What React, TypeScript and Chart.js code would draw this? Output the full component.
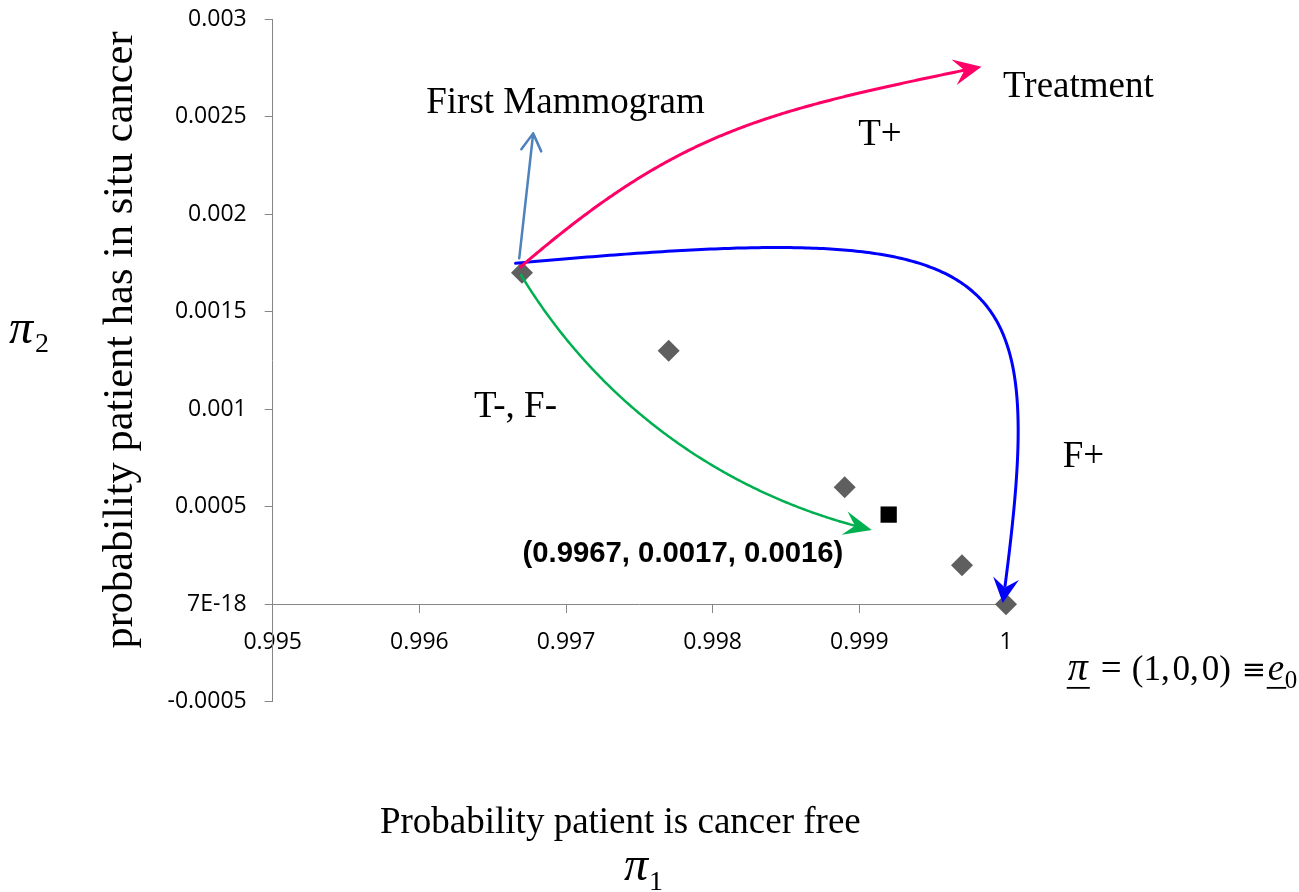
import { useEffect, useRef } from 'react';
import { Chart, registerables } from 'chart.js';

Chart.register(...registerables);

// Belief states (π1, π2) visited along the screening path
const beliefX = [0.9967, 0.9977, 0.9989, 0.9997, 1];
const beliefY = [0.0017, 0.0013, 0.0006, 0.0002, 0];

// Current belief state (black square)
const currentX = [0.9992];
const currentY = [0.00046];

// Axis ticks as printed by the spreadsheet
const xTickValues = [0.995, 0.996, 0.997, 0.998, 0.999, 1];
const xTickLabels = ['0.995', '0.996', '0.997', '0.998', '0.999', '1'];
const yTickValues = [-0.0005, 0, 0.0005, 0.001, 0.0015, 0.002, 0.0025, 0.003];
const yTickLabels = ['-0.0005', '7E-18', '0.0005', '0.001', '0.0015', '0.002', '0.0025', '0.003'];

// Transition arrows, cubic Bézier control points in (π1, π2) units
const arrowTreatment: number[][] = [[0.99669, 0.00173], [0.997768, 0.002427], [0.998339, 0.002526], [0.999833, 0.002757]];
const arrowPositive: number[][] = [[0.996656, 0.001749], [1.000064, 0.001981], [1.000299, 0.001802], [0.999978, 0.0000067]];
const arrowNegative: number[][] = [[0.996693, 0.001689], [0.997231, 0.001022], [0.998083, 0.000561], [0.999085, 0.000381]];
const arrowMammogram: number[][] = [[0.996681, 0.001774], [0.996776, 0.002415]];

const SERIF = '"Liberation Serif", "Times New Roman", serif';
const TICK_FONT = { family: '"Open Sans", sans-serif', size: 23 };
const AXIS_GREY = '#868686';

type Pt = { x: number; y: number };

function bez(p: Pt[], t: number): Pt {
  const u = 1 - t;
  const a = u * u * u, b = 3 * u * u * t, c = 3 * u * t * t, d = t * t * t;
  return { x: a * p[0].x + b * p[1].x + c * p[2].x + d * p[3].x, y: a * p[0].y + b * p[1].y + c * p[2].y + d * p[3].y };
}

function drawCurveArrow(ctx: CanvasRenderingContext2D, p: Pt[], color: string, width: number, len: number, half: number) {
  const tip = p[3];
  const back = bez(p, 0.97);
  const dx = tip.x - back.x, dy = tip.y - back.y;
  const dl = Math.hypot(dx, dy);
  const ux = dx / dl, uy = dy / dl;
  const nx = -uy, ny = ux;
  // shaft stops inside the head
  ctx.save();
  ctx.strokeStyle = color;
  ctx.fillStyle = color;
  ctx.lineWidth = width;
  ctx.lineCap = 'round';
  ctx.lineJoin = 'round';
  ctx.beginPath();
  const steps = 240;
  for (let i = 0; i <= steps; i++) {
    const q = bez(p, i / steps);
    if (Math.hypot(q.x - tip.x, q.y - tip.y) < len * 0.55) break;
    if (i === 0) ctx.moveTo(q.x, q.y); else ctx.lineTo(q.x, q.y);
  }
  ctx.stroke();
  const bx = tip.x - ux * len, by = tip.y - uy * len;
  ctx.beginPath();
  ctx.moveTo(tip.x, tip.y);
  ctx.lineTo(bx + nx * half, by + ny * half);
  ctx.lineTo(tip.x - ux * len * 0.62, tip.y - uy * len * 0.62);
  ctx.lineTo(bx - nx * half, by - ny * half);
  ctx.closePath();
  ctx.fill();
  ctx.restore();
}

function drawOpenArrow(ctx: CanvasRenderingContext2D, a: Pt, b: Pt, color: string, width: number, len: number, half: number) {
  const dx = b.x - a.x, dy = b.y - a.y;
  const dl = Math.hypot(dx, dy);
  const ux = dx / dl, uy = dy / dl;
  const nx = -uy, ny = ux;
  ctx.save();
  ctx.strokeStyle = color;
  ctx.lineWidth = width;
  ctx.lineCap = 'round';
  ctx.lineJoin = 'round';
  ctx.beginPath();
  ctx.moveTo(a.x, a.y);
  ctx.lineTo(b.x, b.y);
  ctx.moveTo(b.x - ux * len + nx * half, b.y - uy * len + ny * half);
  ctx.lineTo(b.x, b.y);
  ctx.lineTo(b.x - ux * len - nx * half, b.y - uy * len - ny * half);
  ctx.stroke();
  ctx.restore();
}

const annotationPlugin = {
  id: 'beliefAnnotations',
  afterDatasetsDraw(chart: any) {
    const { ctx, scales, chartArea } = chart;
    const xs = scales.x, ys = scales.y;
    const P = (v: number[]): Pt => ({ x: xs.getPixelForValue(v[0]), y: ys.getPixelForValue(v[1]) });

    drawOpenArrow(ctx, P(arrowMammogram[0]), P(arrowMammogram[1]), '#4F81BD', 2.5, 17, 10);
    drawCurveArrow(ctx, arrowPositive.map(P), '#0000FF', 3, 25, 13);
    drawCurveArrow(ctx, arrowTreatment.map(P), '#FF0066', 3, 28, 13);
    drawCurveArrow(ctx, arrowNegative.map(P), '#00B050', 2.5, 28, 12);

    ctx.save();
    ctx.fillStyle = '#000';
    ctx.textBaseline = 'alphabetic';
    ctx.textAlign = 'left';

    const label = (text: string, at: number[], font: string) => {
      const p = P(at);
      ctx.font = font;
      ctx.fillText(text, p.x, p.y);
    };
    const serif37 = `37px ${SERIF}`;
    label('First Mammogram', [0.996047, 0.0025195], serif37);
    label('Treatment', [0.99998, 0.0026015], serif37);
    label('T+', [0.998992, 0.0023554], serif37);
    label('T-, F-', [0.996373, 0.000962], serif37);
    label('F+', [1.000387, 0.000704], serif37);
    label('(0.9967, 0.0017, 0.0016)', [0.996703, 0.000218], 'bold 29.3px "Liberation Sans", Arial, sans-serif');

    // π = (1,0,0) ≡ e0 beside the corner state, set piece by piece
    const e = P([1.000421, -0.000388]);
    const piece = (text: string, dx: number, font: string, dy = 0, underline = false) => {
      ctx.font = font;
      ctx.fillText(text, e.x + dx, e.y + dy);
      if (underline) {
        const w = ctx.measureText(text).width;
        ctx.fillRect(e.x + dx - 1, e.y + 7, w + 3, 1.8);
      }
    };
    piece('π', 0, `italic 40px ${SERIF}`, 0, true);
    piece('=', 33, `37px ${SERIF}`);
    piece('(1,\u200A0,\u200A0)', 64, `35px ${SERIF}`);
    piece('\u2261', 174, `29px "DejaVu Serif", serif`, -1);
    piece('e', 200, `italic 37px ${SERIF}`, 0, true);
    piece('0', 217, `25px ${SERIF}`, 8);

    // axis titles
    ctx.font = serif37;
    ctx.textAlign = 'center';
    ctx.fillText('Probability patient is cancer free', (chartArea.left + chartArea.right) / 2 - 19, chartArea.bottom + 131);

    ctx.textAlign = 'left';
    ctx.font = `italic 48px ${SERIF}`;
    const pw = ctx.measureText('π').width;
    const pi1x = 624;
    ctx.fillText('π', pi1x, chartArea.bottom + 178);
    ctx.font = `28px ${SERIF}`;
    ctx.fillText('1', pi1x + pw + 1, chartArea.bottom + 188);

    ctx.font = `italic 48px ${SERIF}`;
    ctx.fillText('π', 9, 343);
    ctx.font = `28px ${SERIF}`;
    ctx.fillText('2', 9 + pw + 2, 352);

    ctx.save();
    ctx.translate(chartArea.left - 141, 340);
    ctx.rotate(-Math.PI / 2);
    ctx.textAlign = 'center';
    ctx.font = `42.5px ${SERIF}`;
    ctx.fillText('probability patient has in situ cancer', 0, 0);
    ctx.restore();

    ctx.restore();
  },
};

const zeroPadding = (s: any) => {
  s.paddingLeft = 0;
  s.paddingRight = 0;
  s.paddingTop = 0;
  s.paddingBottom = 0;
};

export default function App() {
  const ref = useRef<HTMLCanvasElement | null>(null);

  useEffect(() => {
    if (!ref.current) return;
    const chart = new Chart(ref.current, {
      type: 'scatter',
      data: {
        datasets: [
          {
            label: 'belief path',
            data: beliefX.map((x, i) => ({ x, y: beliefY[i] })),
            pointStyle: 'rectRot',
            pointRadius: 11,
            pointHoverRadius: 11,
            backgroundColor: '#5F5F5F',
            borderWidth: 0,
            pointBorderWidth: 0,
            clip: false,
          } as any,
          {
            label: 'current belief',
            data: currentX.map((x, i) => ({ x, y: currentY[i] })),
            pointStyle: 'rect',
            pointRadius: 11.5,
            pointHoverRadius: 11.5,
            backgroundColor: '#000000',
            borderWidth: 0,
            pointBorderWidth: 0,
            clip: false,
          } as any,
        ],
      },
      options: {
        responsive: false,
        animation: false,
        devicePixelRatio: 1,
        events: [],
        layout: { padding: { left: 122.7, top: 19.3, right: 293, bottom: 190.2 } },
        plugins: { legend: { display: false }, tooltip: { enabled: false }, title: { display: false } },
        scales: {
          x: {
            type: 'linear',
            min: 0.995,
            max: 1,
            position: { y: 0 } as any,
            afterBuildTicks: (s: any) => {
              s.ticks = xTickValues.map((value) => ({ value }));
            },
            afterFit: zeroPadding,
            ticks: {
              callback: (_v: any, i: number) => xTickLabels[i],
              font: TICK_FONT,
              color: '#000',
              padding: 16,
              maxRotation: 0,
              autoSkip: false,
            },
            grid: { display: true, drawOnChartArea: false, drawTicks: true, tickLength: 8, color: AXIS_GREY, lineWidth: 1 },
            border: { display: true, color: AXIS_GREY, width: 1 },
          },
          y: {
            type: 'linear',
            min: -0.0005,
            max: 0.003,
            position: 'left',
            afterBuildTicks: (s: any) => {
              s.ticks = yTickValues.map((value) => ({ value }));
            },
            afterFit: (s: any) => {
              zeroPadding(s);
              s.width = 150;
            },
            ticks: {
              callback: (_v: any, i: number) => yTickLabels[i],
              font: TICK_FONT,
              color: '#000',
              padding: 18,
              autoSkip: false,
            },
            grid: { display: true, drawOnChartArea: false, drawTicks: true, tickLength: 8, color: AXIS_GREY, lineWidth: 1 },
            border: { display: true, color: AXIS_GREY, width: 1 },
          },
        },
      },
      plugins: [annotationPlugin],
    });
    return () => chart.destroy();
  }, []);

  return (
    <div style={{ position: 'absolute', left: 0, top: 0, width: 1299, height: 892, background: '#fff' }}>
      <canvas ref={ref} width={1299} height={892} style={{ display: 'block', width: 1299, height: 892 }} />
    </div>
  );
}
